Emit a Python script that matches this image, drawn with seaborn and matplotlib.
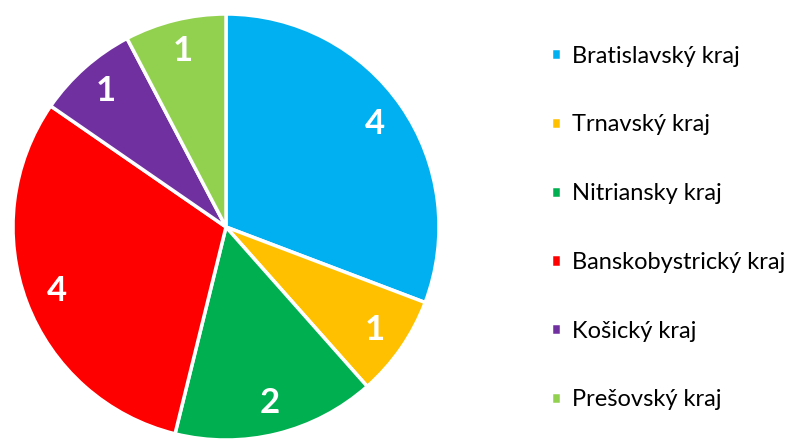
import matplotlib
matplotlib.use("Agg")
import matplotlib.pyplot as plt
import seaborn as sns

# data
regions = ["Bratislavský kraj", "Trnavský kraj", "Nitriansky kraj",
           "Banskobystrický kraj", "Košický kraj", "Prešovský kraj"]
counts = [4, 1, 2, 4, 1, 1]
colors = ["#00B0F0", "#FFC000", "#00B050", "#FF0000", "#7030A0", "#92D050"]

sns.set_theme(style="white")
plt.rcParams['font.family'] = ['Lato', 'DejaVu Sans']

fig = plt.figure(figsize=(7.97, 4.41), dpi=100)
ax = fig.add_axes([13 / 797, 1 / 441, 426 / 797, 426 / 441])

wedges, texts, autotexts = ax.pie(
    counts, colors=sns.color_palette(colors), startangle=90, counterclock=False,
    autopct=lambda p: f"{round(p * sum(counts) / 100):d}", pctdistance=0.85,
    wedgeprops=dict(edgecolor="white", linewidth=2.5),
    textprops=dict(color="white", fontsize=25, fontweight="bold"))
ax.set_xlim(-1.0, 1.0)
ax.set_ylim(-1.0, 1.0)
ax.set_aspect("equal")

fig.legend(wedges, regions, loc="center left", bbox_to_anchor=(530 / 797, 0.483),
           frameon=False, fontsize=17, labelcolor="black",
           handlelength=0.42, handleheight=0.42,
           handletextpad=0.45, labelspacing=2.02)

fig.savefig("out.png", dpi=100)
